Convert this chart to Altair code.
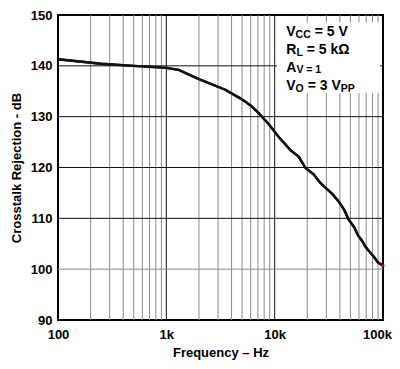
import altair as alt
import pandas as pd

# ---- data ----
freq = [100, 250, 500, 1000, 1300, 2000, 3500, 4900, 6000, 7200, 8900, 11000, 12500,
        14000, 16700, 19300, 23000, 26300, 29200, 34000, 39000, 44000, 48000, 54000,
        59000, 64000, 69000, 76000, 82000, 90000, 100000]
rejection_db = [141.3, 140.4, 140.0, 139.6, 139.2, 137.4, 135.3, 133.5, 132.2, 130.6,
                128.4, 125.9, 124.6, 123.4, 122.1, 119.9, 118.6, 117.0, 116.1, 114.8,
                113.3, 111.6, 109.8, 108.3, 106.6, 105.6, 104.4, 103.3, 102.5, 101.3, 100.7]

x_ticks = [100, 1000, 10000, 100000]
x_tick_labels = ["100", "1k", "10k", "100k"]
y_ticks = [90, 100, 110, 120, 130, 140, 150]
major_freqs = [1000, 10000]
minor_freqs = [m * d for d in (100, 1000, 10000) for m in range(2, 10)]
hgrid_dark = [110, 120, 130, 140]
hgrid_light = [100]

FONT = "Liberation Sans"
W, H = 325, 305

curve = pd.DataFrame({"f": freq, "db": rejection_db})
xscale = alt.Scale(type="log", domain=[100, 100000], nice=False)
yscale = alt.Scale(domain=[90, 150], nice=False, zero=False)

label_expr = " : ".join(
    f"datum.value == {v} ? '{t}'" for v, t in zip(x_ticks, x_tick_labels)
) + " : ''"

xaxis = alt.Axis(values=x_ticks, labelExpr=label_expr, title="Frequency – Hz",
                 grid=False, ticks=False, tickSize=0, domain=False,
                 labelFlush=False, labelOverlap=False, labelPadding=8,
                 labelOffset={"condition": {"test": f"datum.value == {x_ticks[-1]}",
                                            "value": -6}, "value": 0},
                 titleX=W / 2, titleY=36, titleBaseline="alphabetic",
                 titleAlign="center")
yaxis = alt.Axis(values=y_ticks, format="d", title="Crosstalk Rejection - dB",
                 grid=False, ticks=False, tickSize=0, domain=False,
                 labelFlush=False, labelOverlap=False, labelPadding=6,
                 titleX=-42, titleY=H / 2, titleAngle=270,
                 titleBaseline="middle", titleAlign="center")

X = lambda: alt.X("f:Q", scale=xscale, axis=xaxis)
Y = lambda: alt.Y("db:Q", scale=yscale, axis=yaxis)

line = alt.Chart(curve).mark_line(color="#111111", strokeWidth=2.4).encode(x=X(), y=Y())

vminor = alt.Chart(pd.DataFrame({"f": minor_freqs})).mark_rule(
    color="#8a8a8a", strokeWidth=1).encode(x=X())
vmajor = alt.Chart(pd.DataFrame({"f": major_freqs})).mark_rule(
    color="#111111", strokeWidth=1).encode(x=X())
hdark = alt.Chart(pd.DataFrame({"db": hgrid_dark})).mark_rule(
    color="#111111", strokeWidth=1).encode(y=Y())
hlight = alt.Chart(pd.DataFrame({"db": hgrid_light})).mark_rule(
    color="#8a8a8a", strokeWidth=1).encode(y=Y())

one = pd.DataFrame({"a": [0]})
box = alt.Chart(one).mark_rect(color="white").encode(
    x=alt.value(219), x2=alt.value(322), y=alt.value(7.5), y2=alt.value(78)
)

endpt = alt.Chart(curve.tail(1)).mark_point(
    filled=True, color="#e00000", size=10, opacity=1
).encode(x=X(), y=Y())


def txt(s, x, y, size=14):
    return alt.Chart(one).mark_text(
        text=s, align="left", baseline="alphabetic", font=FONT,
        fontWeight="bold", fontSize=size, color="black"
    ).encode(x=alt.value(x), y=alt.value(y))


SUB = 10.5
legend = [
    txt("V", 228.3, 21.2), txt("CC", 237.6, 23.2, SUB), txt("= 5 V", 256.7, 21.2),
    txt("R", 228.3, 38.5), txt("L", 238.4, 40.5, SUB), txt("= 5 kΩ", 248.7, 38.5),
    txt("A", 228.3, 56.8), txt("V = 1", 238.4, 58.2, SUB),
    txt("V", 228.3, 75.0), txt("O", 237.6, 77.0, SUB), txt("= 3 V", 249.7, 75.0),
    txt("PP", 282.8, 77.0, SUB),
]

chart = alt.layer(line, vminor, vmajor, hlight, hdark, box, line, endpt, *legend).properties(
    width=W, height=H,
    autosize=alt.AutoSizeParams(type="none"),
    padding={"left": 50, "top": 7, "right": 9, "bottom": 41},
).configure_view(
    stroke="black", strokeWidth=2
).configure_axis(
    labelFont=FONT, labelFontSize=13, labelFontWeight="bold", labelColor="black",
    titleFont=FONT, titleFontSize=13, titleFontWeight="bold", titleColor="black",
)

chart.save("out.html", embed_options={"renderer": "svg", "actions": False})
